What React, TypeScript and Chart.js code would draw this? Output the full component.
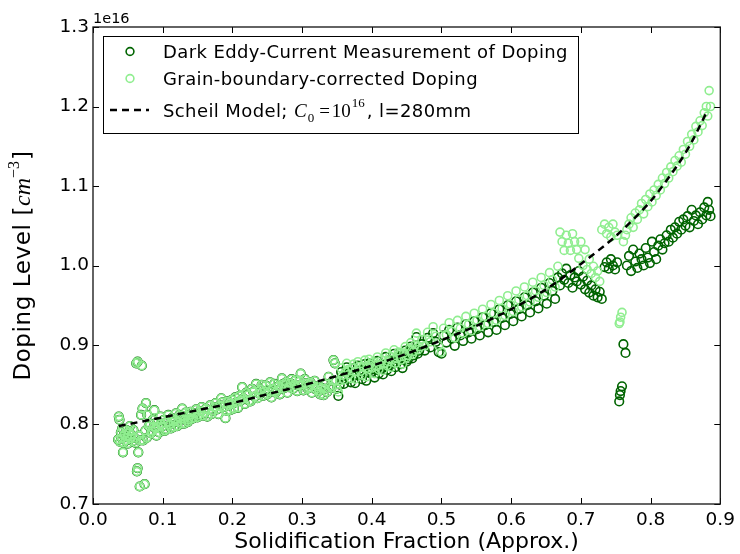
import React, { useEffect, useRef } from 'react';
import { Chart, registerables } from 'chart.js';

Chart.register(...registerables);

// ---------- data (doping values in units of 1e16 cm^-3) ----------
const offsetLabel = '1e16';
const xTicks = [0.0, 0.1, 0.2, 0.3, 0.4, 0.5, 0.6, 0.7, 0.8, 0.9];
const yTicks = [0.7, 0.8, 0.9, 1.0, 1.1, 1.2, 1.3];

const legendLabels = [
  'Dark Eddy-Current Measurement of Doping',
  'Grain-boundary-corrected Doping',
  'Scheil Model; ',
];

const fraction = [
  // start
  0.036, 0.037, 0.038, 0.039, 0.040, 0.041, 0.042, 0.043, 0.044, 0.045,
  0.047, 0.048, 0.049, 0.050, 0.052, 0.053, 0.054, 0.055, 0.057, 0.058,
  0.060, 0.061, 0.062, 0.063, 0.064, 0.064, 0.065, 0.066, 0.067, 0.068,
  0.069, 0.070, 0.071, 0.072, 0.074, 0.075, 0.076, 0.077, 0.078, 0.080,
  // 0.08 - 0.24
  0.082, 0.083, 0.084, 0.086, 0.087, 0.088, 0.090, 0.091, 0.092, 0.094,
  0.095, 0.097, 0.098, 0.100, 0.102, 0.103, 0.105, 0.107, 0.108, 0.110,
  0.112, 0.113, 0.115, 0.116, 0.118, 0.119, 0.121, 0.122, 0.124, 0.125,
  0.127, 0.128, 0.130, 0.131, 0.133, 0.134, 0.136, 0.137, 0.139, 0.140,
  0.142, 0.144, 0.146, 0.148, 0.150, 0.152, 0.154, 0.156, 0.158, 0.160,
  0.162, 0.164, 0.166, 0.168, 0.170, 0.172, 0.174, 0.176, 0.178, 0.180,
  0.182, 0.184, 0.186, 0.188, 0.190, 0.192, 0.193, 0.195, 0.197, 0.199,
  0.200, 0.202, 0.204, 0.206, 0.208, 0.210, 0.212, 0.214, 0.216, 0.218,
  0.220, 0.222, 0.224, 0.226, 0.228, 0.230, 0.232, 0.234, 0.236, 0.238, 0.240,
  // 0.24 - 0.35
  0.242, 0.244, 0.246, 0.248, 0.250, 0.252, 0.254, 0.256, 0.258, 0.260,
  0.262, 0.264, 0.266, 0.268, 0.270, 0.271, 0.273, 0.275, 0.277, 0.279,
  0.281, 0.283, 0.285, 0.287, 0.289, 0.291, 0.293, 0.295, 0.297, 0.298,
  0.300, 0.302, 0.304, 0.306, 0.308, 0.310, 0.312, 0.314, 0.316, 0.318,
  0.320, 0.322, 0.324, 0.326, 0.328, 0.331, 0.333, 0.334, 0.336, 0.338,
  0.340, 0.342, 0.344, 0.345, 0.347, 0.348, 0.350,
  // 0.35 - 0.47
  0.352, 0.354, 0.356, 0.358, 0.360, 0.362, 0.364, 0.366, 0.368, 0.370,
  0.372, 0.374, 0.376, 0.378, 0.380, 0.382, 0.384, 0.386, 0.388, 0.390,
  0.392, 0.394, 0.396, 0.398, 0.400, 0.402, 0.404, 0.406, 0.408, 0.410,
  0.412, 0.414, 0.416, 0.418, 0.420, 0.422, 0.424, 0.426, 0.428, 0.430,
  0.432, 0.434, 0.436, 0.438, 0.440, 0.442, 0.444, 0.446, 0.448, 0.450,
  0.452, 0.454, 0.456, 0.458, 0.460, 0.462, 0.464, 0.466, 0.468,
  // 0.47 - 0.67
  0.472, 0.476, 0.480, 0.484, 0.488, 0.492, 0.496, 0.500, 0.503, 0.507,
  0.511, 0.515, 0.519, 0.523, 0.527, 0.531, 0.535, 0.539, 0.543, 0.547,
  0.551, 0.555, 0.559, 0.563, 0.567, 0.571, 0.575, 0.579, 0.583, 0.587,
  0.591, 0.595, 0.599, 0.603, 0.607, 0.611, 0.615, 0.619, 0.623, 0.627,
  0.631, 0.635, 0.639, 0.643, 0.647, 0.651, 0.655, 0.659, 0.663, 0.667,
  // 0.67 - 0.765
  0.670, 0.673, 0.676, 0.679, 0.682, 0.685, 0.688, 0.691, 0.694, 0.697,
  0.700, 0.703, 0.706, 0.709, 0.712, 0.715, 0.718, 0.721, 0.724, 0.727,
  0.730, 0.734, 0.737, 0.740, 0.743, 0.746, 0.749, 0.752, 0.755, 0.756,
  0.757, 0.759, 0.761, 0.764,
  // 0.765 - 0.89
  0.766, 0.769, 0.772, 0.775, 0.778, 0.781, 0.784, 0.787, 0.790, 0.793,
  0.796, 0.799, 0.802, 0.805, 0.808, 0.811, 0.814, 0.817, 0.820, 0.823,
  0.826, 0.829, 0.832, 0.835, 0.838, 0.841, 0.844, 0.847, 0.850, 0.853,
  0.856, 0.859, 0.862, 0.865, 0.868, 0.871, 0.874, 0.877, 0.880, 0.882,
  0.884, 0.886,
];

const eddyDoping = [
  0.781, 0.810, 0.806, 0.778, 0.790, 0.783, 0.795, 0.765, 0.777, 0.788,
  0.780, 0.793, 0.784, 0.776, 0.791, 0.798, 0.782, 0.787, 0.779, 0.793,
  0.783, 0.777, 0.877, 0.741, 0.879, 0.745, 0.765, 0.786, 0.722, 0.780,
  0.812, 0.874, 0.820, 0.780, 0.725, 0.792, 0.827, 0.783, 0.812, 0.798,
  0.801, 0.789, 0.792, 0.806, 0.797, 0.818, 0.795, 0.786, 0.803, 0.797,
  0.790, 0.810, 0.801, 0.798, 0.806, 0.792, 0.794, 0.803, 0.812, 0.800,
  0.795, 0.808, 0.803, 0.797, 0.806, 0.814, 0.798, 0.803, 0.812, 0.809,
  0.801, 0.820, 0.807, 0.801, 0.815, 0.811, 0.803, 0.806, 0.812, 0.816,
  0.807, 0.808, 0.814, 0.819, 0.809, 0.812, 0.817, 0.822, 0.811, 0.815,
  0.820, 0.810, 0.818, 0.824, 0.813, 0.817, 0.822, 0.827, 0.819, 0.813,
  0.824, 0.833, 0.828, 0.822, 0.808, 0.817, 0.829, 0.824, 0.818, 0.831,
  0.826, 0.820, 0.834, 0.828, 0.821, 0.836, 0.830, 0.847, 0.833, 0.826,
  0.840, 0.837, 0.830, 0.829, 0.845, 0.841, 0.835, 0.851, 0.833, 0.839, 0.844,
  0.850, 0.836, 0.842, 0.849, 0.838, 0.841, 0.853, 0.834, 0.845, 0.851,
  0.840, 0.843, 0.848, 0.838, 0.845, 0.858, 0.851, 0.846, 0.853, 0.840,
  0.847, 0.852, 0.857, 0.845, 0.850, 0.856, 0.842, 0.849, 0.855, 0.864,
  0.850, 0.843, 0.857, 0.852, 0.845, 0.846, 0.853, 0.840, 0.849, 0.855,
  0.844, 0.848, 0.842, 0.838, 0.846, 0.837, 0.845, 0.851, 0.841, 0.860,
  0.848, 0.846, 0.855, 0.881, 0.877, 0.855, 0.845,
  0.836, 0.850, 0.866, 0.857, 0.851, 0.861, 0.872, 0.864, 0.858, 0.853,
  0.866, 0.871, 0.852, 0.862, 0.874, 0.868, 0.862, 0.857, 0.868, 0.876,
  0.855, 0.866, 0.877, 0.871, 0.866, 0.874, 0.859, 0.869, 0.880, 0.864,
  0.870, 0.876, 0.863, 0.872, 0.885, 0.869, 0.874, 0.881, 0.867, 0.877,
  0.889, 0.872, 0.878, 0.886, 0.884, 0.876, 0.871, 0.885, 0.893, 0.879,
  0.882, 0.890, 0.898, 0.883, 0.887, 0.895, 0.910, 0.889, 0.893,
  0.901, 0.893, 0.909, 0.897, 0.915, 0.904, 0.891, 0.889, 0.912, 0.903,
  0.919, 0.908, 0.899, 0.922, 0.912, 0.905, 0.926, 0.916, 0.908, 0.930,
  0.920, 0.912, 0.935, 0.925, 0.916, 0.940, 0.929, 0.919, 0.945, 0.934,
  0.925, 0.950, 0.939, 0.930, 0.955, 0.945, 0.936, 0.960, 0.950, 0.941,
  0.966, 0.955, 0.946, 0.972, 0.962, 0.952, 0.978, 0.968, 0.958, 0.985,
  0.975, 0.990, 0.982, 0.996, 0.978, 0.988, 0.972, 0.985, 0.980, 0.993,
  0.976, 0.986, 0.970, 0.981, 0.966, 0.975, 0.962, 0.970, 0.960, 0.967,
  0.958, 0.998, 1.004, 0.996, 1.008, 1.000, 0.995, 1.004, 0.829, 0.837,
  0.842, 0.848, 0.901, 0.890,
  1.000, 1.012, 0.993, 1.020, 1.005, 0.997, 1.015, 1.008, 1.000, 1.022,
  1.010, 1.003, 1.030, 1.017, 1.008, 1.025, 1.033, 1.020, 1.028, 1.038,
  1.030, 1.045, 1.035, 1.048, 1.040, 1.055, 1.045, 1.058, 1.050, 1.062,
  1.048, 1.070, 1.056, 1.063, 1.052, 1.067, 1.058, 1.073, 1.063, 1.080,
  1.070, 1.062,
];

const correctedDoping = [
  0.781, 0.810, 0.806, 0.778, 0.790, 0.783, 0.795, 0.765, 0.777, 0.788,
  0.780, 0.793, 0.784, 0.776, 0.791, 0.798, 0.782, 0.787, 0.779, 0.793,
  0.783, 0.777, 0.877, 0.741, 0.879, 0.745, 0.765, 0.786, 0.722, 0.780,
  0.812, 0.874, 0.820, 0.780, 0.725, 0.792, 0.827, 0.783, 0.812, 0.798,
  0.801, 0.789, 0.792, 0.806, 0.797, 0.818, 0.795, 0.786, 0.803, 0.797,
  0.790, 0.810, 0.801, 0.798, 0.806, 0.792, 0.794, 0.803, 0.812, 0.800,
  0.795, 0.808, 0.803, 0.797, 0.806, 0.814, 0.798, 0.803, 0.812, 0.809,
  0.801, 0.820, 0.807, 0.801, 0.815, 0.811, 0.803, 0.806, 0.812, 0.816,
  0.807, 0.808, 0.814, 0.819, 0.809, 0.812, 0.817, 0.822, 0.811, 0.815,
  0.820, 0.810, 0.818, 0.824, 0.813, 0.817, 0.822, 0.827, 0.819, 0.813,
  0.824, 0.833, 0.828, 0.822, 0.808, 0.817, 0.829, 0.824, 0.818, 0.831,
  0.826, 0.820, 0.834, 0.828, 0.821, 0.836, 0.830, 0.847, 0.833, 0.826,
  0.840, 0.837, 0.830, 0.829, 0.845, 0.841, 0.835, 0.851, 0.833, 0.839, 0.844,
  0.850, 0.836, 0.842, 0.849, 0.838, 0.841, 0.853, 0.834, 0.845, 0.851,
  0.840, 0.843, 0.848, 0.838, 0.845, 0.858, 0.851, 0.846, 0.853, 0.840,
  0.847, 0.852, 0.857, 0.845, 0.850, 0.856, 0.842, 0.849, 0.855, 0.864,
  0.850, 0.843, 0.857, 0.852, 0.845, 0.846, 0.853, 0.840, 0.849, 0.855,
  0.844, 0.848, 0.842, 0.838, 0.846, 0.837, 0.845, 0.851, 0.841, 0.860,
  0.848, 0.846, 0.855, 0.881, 0.877, 0.855, 0.845,
  0.841, 0.855, 0.871, 0.862, 0.856, 0.866, 0.877, 0.869, 0.863, 0.858,
  0.871, 0.876, 0.857, 0.867, 0.879, 0.873, 0.867, 0.862, 0.873, 0.881,
  0.860, 0.871, 0.882, 0.876, 0.871, 0.879, 0.864, 0.874, 0.885, 0.869,
  0.875, 0.881, 0.868, 0.877, 0.890, 0.874, 0.879, 0.886, 0.872, 0.882,
  0.894, 0.877, 0.883, 0.891, 0.889, 0.881, 0.876, 0.890, 0.898, 0.884,
  0.887, 0.895, 0.903, 0.888, 0.892, 0.900, 0.915, 0.894, 0.898,
  0.907, 0.899, 0.916, 0.904, 0.923, 0.911, 0.899, 0.891, 0.921, 0.913,
  0.928, 0.917, 0.909, 0.931, 0.921, 0.915, 0.936, 0.926, 0.918, 0.940,
  0.931, 0.923, 0.945, 0.936, 0.927, 0.951, 0.940, 0.931, 0.956, 0.946,
  0.937, 0.962, 0.951, 0.942, 0.968, 0.957, 0.948, 0.973, 0.962, 0.954,
  0.979, 0.968, 0.960, 0.985, 0.975, 0.966, 0.991, 0.982, 0.973, 0.999,
  1.042, 1.030, 1.019, 1.038, 1.028, 1.019, 1.040, 1.030, 1.020, 1.009,
  1.030, 1.000, 1.020, 0.995, 1.008, 0.990, 0.999, 0.985, 0.993, 0.980,
  1.045, 1.052, 1.040, 1.048, 1.036, 1.052, 1.042, 1.038, 0.927, 0.929,
  0.935, 0.941, 1.030, 1.038,
  1.045, 1.052, 1.060, 1.048, 1.066, 1.058, 1.070, 1.078, 1.065, 1.083,
  1.074, 1.090, 1.080, 1.095, 1.088, 1.102, 1.095, 1.110, 1.103, 1.117,
  1.110, 1.124, 1.118, 1.132, 1.125, 1.138, 1.130, 1.146, 1.140, 1.156,
  1.150, 1.165, 1.158, 1.175, 1.168, 1.182, 1.176, 1.192, 1.200, 1.188,
  1.220, 1.200,
];

const scheilFraction = [0.037, 0.1, 0.15, 0.2, 0.25, 0.3, 0.35, 0.4, 0.45, 0.5, 0.55, 0.6, 0.65, 0.7, 0.75, 0.8, 0.84, 0.86, 0.881];
const scheilDoping = [0.798, 0.809, 0.818, 0.827, 0.838, 0.849, 0.861, 0.874, 0.889, 0.906, 0.924, 0.945, 0.970, 1.002, 1.037, 1.081, 1.128, 1.157, 1.194];

// ---------- styling ----------
const SANS = "'DejaVu Sans', sans-serif";
const MATH = "'Liberation Serif', serif";
const DARK = '#006400';
const LIGHT = '#90ee90';

function pairs(xs: number[], ys: number[]) {
  const n = Math.min(xs.length, ys.length);
  const out: { x: number; y: number }[] = [];
  for (let i = 0; i < n; i++) out.push({ x: xs[i], y: ys[i] });
  return out;
}

const frameTicksPlugin = {
  id: 'frameTicks',
  afterDatasetsDraw(chart: any) {
    const { ctx, chartArea: a, scales } = chart;
    const xs = scales.x;
    const ys = scales.y;
    ctx.save();
    ctx.strokeStyle = '#000';
    ctx.lineWidth = 1;
    ctx.beginPath();
    for (const v of xTicks) {
      const p = Math.round(xs.getPixelForValue(v)) + 0.5;
      ctx.moveTo(p, a.bottom); ctx.lineTo(p, a.bottom - 6);
      ctx.moveTo(p, a.top); ctx.lineTo(p, a.top + 6);
    }
    for (const v of yTicks) {
      const p = Math.round(ys.getPixelForValue(v)) + 0.5;
      ctx.moveTo(a.left, p); ctx.lineTo(a.left + 6, p);
      ctx.moveTo(a.right, p); ctx.lineTo(a.right - 6, p);
    }
    ctx.stroke();
    ctx.lineWidth = 1.3;
    ctx.strokeStyle = '#111';
    ctx.strokeRect(a.left, a.top, a.right - a.left, a.bottom - a.top);
    ctx.restore();
  },
};

type Part = { t: string; f: string; dy: number; gap?: number };

function drawParts(ctx: CanvasRenderingContext2D, parts: Part[], x: number, y: number, spacing = '0px') {
  let cx = x;
  for (const p of parts) {
    cx += p.gap || 0;
    ctx.font = p.f;
    (ctx as any).letterSpacing = p.f.includes('Liberation') ? '0px' : spacing;
    ctx.fillText(p.t, cx, y + p.dy);
    cx += ctx.measureText(p.t).width;
  }
  (ctx as any).letterSpacing = '0px';
  return cx;
}

function partsWidth(ctx: CanvasRenderingContext2D, parts: Part[], spacing = '0px') {
  let w = 0;
  for (const p of parts) {
    ctx.font = p.f;
    (ctx as any).letterSpacing = p.f.includes('Liberation') ? '0px' : spacing;
    w += (p.gap || 0) + ctx.measureText(p.t).width;
  }
  (ctx as any).letterSpacing = '0px';
  return w;
}

const decorPlugin = {
  id: 'decor',
  afterDraw(chart: any) {
    const { ctx, chartArea: a } = chart;
    ctx.save();
    ctx.fillStyle = '#000';
    ctx.textBaseline = 'alphabetic';
    ctx.textAlign = 'left';

    // offset text
    ctx.font = `14.5px ${SANS}`;
    ctx.fillText(offsetLabel, a.left, a.top - 4);

    // y title with math
    const yParts: Part[] = [
      { t: 'Doping Level [', f: `23px ${SANS}`, dy: 0 },
      { t: 'cm', f: `italic 24px ${MATH}`, dy: 0 },
      { t: '\u22123', f: `16px ${MATH}`, dy: -11 },
      { t: ']', f: `23px ${SANS}`, dy: 0, gap: 1 },
    ];
    const ysp = '0.6px';
    const yw = partsWidth(ctx, yParts, ysp);
    ctx.save();
    ctx.translate(30, (a.top + a.bottom) / 2);
    ctx.rotate(-Math.PI / 2);
    drawParts(ctx, yParts, -yw / 2, 0, ysp);
    ctx.restore();

    // legend
    const bx = a.left + 10;
    const by = a.top + 9;
    const bw = 475;
    const bh = 97;
    ctx.fillStyle = '#fff';
    ctx.fillRect(bx, by, bw, bh);
    ctx.strokeStyle = '#000';
    ctx.lineWidth = 1;
    ctx.strokeRect(bx + 0.5, by + 0.5, bw, bh);

    const mx = bx + 27;
    const tx = bx + 60;
    const rows = [by + 21.5, by + 48.5, by + 80.5];

    ctx.lineWidth = 1.6;
    ctx.strokeStyle = DARK;
    ctx.beginPath(); ctx.arc(mx, rows[0] - 6, 3.9, 0, Math.PI * 2); ctx.stroke();
    ctx.strokeStyle = LIGHT;
    ctx.beginPath(); ctx.arc(mx, rows[1] - 6, 3.9, 0, Math.PI * 2); ctx.stroke();
    ctx.strokeStyle = '#000';
    ctx.lineWidth = 2.5;
    ctx.setLineDash([7, 5]);
    ctx.beginPath(); ctx.moveTo(bx + 7, rows[2] - 6.5); ctx.lineTo(bx + 46, rows[2] - 6.5); ctx.stroke();
    ctx.setLineDash([]);

    ctx.fillStyle = '#000';
    const lf = `18px ${SANS}`;
    drawParts(ctx, [{ t: legendLabels[0], f: lf, dy: 0 }], tx, rows[0], '0.4px');
    drawParts(ctx, [{ t: legendLabels[1], f: lf, dy: 0 }], tx, rows[1], '0.4px');
    drawParts(ctx, [
      { t: legendLabels[2], f: lf, dy: 0 },
      { t: 'C', f: `italic 19px ${MATH}`, dy: 0 },
      { t: '0', f: `13px ${MATH}`, dy: 5, gap: 1 },
      { t: '=', f: `19px ${MATH}`, dy: 0, gap: 5 },
      { t: '10', f: `19px ${MATH}`, dy: 0, gap: 2 },
      { t: '16', f: `13px ${MATH}`, dy: -10, gap: 1 },
      { t: ', l=280mm', f: lf, dy: 0, gap: 2 },
    ], tx, rows[2], '0.4px');

    ctx.restore();
  },
};

export default function App() {
  const canvasRef = useRef<HTMLCanvasElement | null>(null);

  useEffect(() => {
    if (!canvasRef.current) return;
    const chart = new Chart(canvasRef.current, {
      type: 'scatter',
      data: {
        datasets: [
          {
            type: 'line',
            label: 'Scheil Model',
            data: pairs(scheilFraction, scheilDoping),
            borderColor: '#000',
            borderWidth: 2.5,
            borderDash: [7, 5],
            pointRadius: 0,
            fill: false,
            tension: 0.3,
            order: 0,
          } as any,
          {
            label: legendLabels[1],
            data: pairs(fraction, correctedDoping),
            borderColor: LIGHT,
            backgroundColor: 'rgba(0,0,0,0)',
            pointRadius: 4,
            pointBorderWidth: 1.6,
            order: 1,
          },
          {
            label: legendLabels[0],
            data: pairs(fraction, eddyDoping),
            borderColor: DARK,
            backgroundColor: 'rgba(0,0,0,0)',
            pointRadius: 4.3,
            pointBorderWidth: 1.6,
            order: 2,
          },
        ],
      },
      options: {
        animation: false,
        responsive: true,
        maintainAspectRatio: false,
        layout: { padding: { left: 0, right: 16, top: 27, bottom: 0 } },
        plugins: { legend: { display: false }, tooltip: { enabled: false } },
        scales: {
          x: {
            type: 'linear',
            min: 0,
            max: 0.9,
            afterFit: (s: any) => { s.height = 50; },
            afterBuildTicks: (s: any) => { s.ticks = xTicks.map((v) => ({ value: v })); },
            grid: { display: false, drawTicks: false },
            border: { display: false },
            ticks: {
              color: '#000',
              font: { family: SANS, size: 18.5 },
              padding: 5,
              maxRotation: 0,
              autoSkip: false,
              callback: (v: any) => Number(v).toFixed(1),
            },
            title: {
              display: true,
              text: 'Solidification Fraction (Approx.)',
              color: '#000',
              font: { family: SANS, size: 22, lineHeight: 1 },
              padding: { top: 0, bottom: 1 },
            },
          },
          y: {
            type: 'linear',
            min: 0.7,
            max: 1.3,
            afterFit: (s: any) => { s.width = 93; },
            afterBuildTicks: (s: any) => { s.ticks = yTicks.map((v) => ({ value: v })); },
            grid: { display: false, drawTicks: false },
            border: { display: false },
            ticks: {
              color: '#000',
              font: { family: SANS, size: 18.5 },
              padding: 4,
              autoSkip: false,
              callback: (v: any) => Number(v).toFixed(1),
            },
          },
        },
      },
      plugins: [frameTicksPlugin, decorPlugin],
    });
    return () => chart.destroy();
  }, []);

  return (
    <div style={{ position: 'absolute', left: 0, top: 0, width: 740, height: 554, background: '#fff' }}>
      <canvas ref={canvasRef} />
    </div>
  );
}
